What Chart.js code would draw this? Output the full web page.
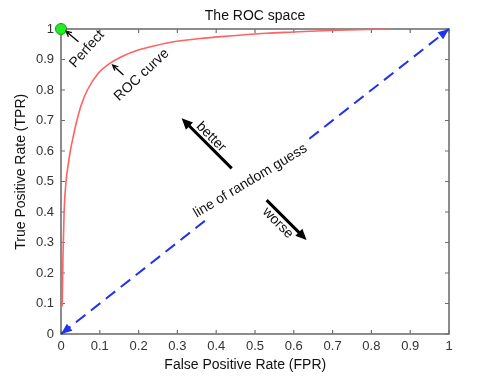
<!DOCTYPE html>
<html>
<head>
<meta charset="utf-8">
<style>
  html, body { margin: 0; padding: 0; background: #fff; }
  canvas { display: block; }
</style>
</head>
<body>
<canvas id="roc" width="480" height="376"></canvas>
<script src="https://cdn.jsdelivr.net/npm/chart.js@4.4.1/dist/chart.umd.min.js"></script>
<script>
// ROC curve (FPR -> TPR)
const rocFpr = [0.003, 0.005, 0.008, 0.013, 0.018, 0.024, 0.032, 0.041, 0.052, 0.068, 0.096, 0.122, 0.156, 0.199, 0.242, 0.29, 0.358, 0.444, 0.53, 0.6, 0.69, 0.84];
const rocTpr = [0.09, 0.25, 0.4, 0.5, 0.55, 0.6, 0.65, 0.7, 0.75, 0.8, 0.855, 0.884, 0.909, 0.931, 0.945, 0.958, 0.969, 0.978, 0.986, 0.99, 0.995, 1.0];

// line of random guess, broken where its label sits
const guessLow = [0, 0.375];
const guessHigh = [0.64, 1];

// the perfect classifier
const perfectFpr = [0];
const perfectTpr = [1];

const tickValues = [0, 0.1, 0.2, 0.3, 0.4, 0.5, 0.6, 0.7, 0.8, 0.9, 1];
const tickLabels = ["0", "0.1", "0.2", "0.3", "0.4", "0.5", "0.6", "0.7", "0.8", "0.9", "1"];

// rotated labels and pointer arrows (data units)
const notes = [
    { text: "Perfect", x: 0.067, y: 0.934, angle: -48 },
    { text: "ROC curve", x: 0.208, y: 0.849, angle: -43 },
    { text: "better", x: 0.387, y: 0.646, angle: 45 },
    { text: "worse", x: 0.559, y: 0.364, angle: 45 },
    { text: "line of random guess", x: 0.488, y: 0.502, angle: -31 },
];
const pointers = [
    { from: [0.045, 0.958], to: [0.013, 0.993], bold: false },
    { from: [0.161, 0.849], to: [0.133, 0.882], bold: false },
    { from: [0.44, 0.543], to: [0.311, 0.707], bold: true },
    { from: [0.53, 0.439], to: [0.633, 0.308], bold: true },
];

const zip = (xs, ys) => xs.map((x, i) => ({ x: x, y: ys[i] }));

const blue = "#2233ee";
const fontFamily = "'Liberation Sans', Arial, sans-serif";
Chart.defaults.font.family = fontFamily;
Chart.defaults.color = "#222";

const drawArrow = (ctx, x1, y1, x2, y2, bold) => {
    const a = Math.atan2(y2 - y1, x2 - x1);
    ctx.save();
    ctx.strokeStyle = "#000";
    ctx.fillStyle = "#000";
    ctx.lineCap = "butt";
    if (bold) {
        const len = 11, half = 5;
        ctx.lineWidth = 3;
        ctx.beginPath();
        ctx.moveTo(x1, y1);
        ctx.lineTo(x2 - Math.cos(a) * len * 0.7, y2 - Math.sin(a) * len * 0.7);
        ctx.stroke();
        ctx.beginPath();
        ctx.moveTo(x2, y2);
        ctx.lineTo(x2 - Math.cos(a) * len - Math.sin(a) * half, y2 - Math.sin(a) * len + Math.cos(a) * half);
        ctx.lineTo(x2 - Math.cos(a) * len + Math.sin(a) * half, y2 - Math.sin(a) * len - Math.cos(a) * half);
        ctx.closePath();
        ctx.fill();
    } else {
        const len = 6;
        ctx.lineWidth = 1.3;
        ctx.beginPath();
        ctx.moveTo(x1, y1);
        ctx.lineTo(x2, y2);
        ctx.moveTo(x2 - Math.cos(a - 0.45) * len, y2 - Math.sin(a - 0.45) * len);
        ctx.lineTo(x2, y2);
        ctx.lineTo(x2 - Math.cos(a + 0.45) * len, y2 - Math.sin(a + 0.45) * len);
        ctx.stroke();
    }
    ctx.restore();
};

const drawHead = (ctx, from, tip) => {
    const a = Math.atan2(tip.y - from.y, tip.x - from.x);
    const len = 11, half = 4.5;
    ctx.beginPath();
    ctx.moveTo(tip.x, tip.y);
    ctx.lineTo(tip.x - Math.cos(a) * len - Math.sin(a) * half, tip.y - Math.sin(a) * len + Math.cos(a) * half);
    ctx.lineTo(tip.x - Math.cos(a) * len + Math.sin(a) * half, tip.y - Math.sin(a) * len - Math.cos(a) * half);
    ctx.closePath();
    ctx.fill();
};

// MATLAB style box with inward ticks, plus the annotations
const rocDecor = {
    id: "rocDecor",
    beforeDatasetsDraw(chart) {
        const { ctx, chartArea: area, scales } = chart;
        ctx.save();
        ctx.strokeStyle = "#707070";
        ctx.lineWidth = 1.2;
        ctx.beginPath();
        scales.x.ticks.forEach((t) => {
            const px = scales.x.getPixelForValue(t.value);
            ctx.moveTo(px, area.bottom);
            ctx.lineTo(px, area.bottom - 4);
            ctx.moveTo(px, area.top);
            ctx.lineTo(px, area.top + 4);
        });
        scales.y.ticks.forEach((t) => {
            const py = scales.y.getPixelForValue(t.value);
            ctx.moveTo(area.left, py);
            ctx.lineTo(area.left + 4, py);
            ctx.moveTo(area.right, py);
            ctx.lineTo(area.right - 4, py);
        });
        ctx.stroke();
        ctx.lineWidth = 1.6;
        ctx.strokeRect(area.left, area.top, area.right - area.left, area.bottom - area.top);
        ctx.restore();
    },
    afterDatasetsDraw(chart) {
        const { ctx, scales } = chart;
        const low = chart.getDatasetMeta(2).data;
        const high = chart.getDatasetMeta(3).data;
        ctx.save();
        ctx.fillStyle = blue;
        drawHead(ctx, low[1], low[0]);
        drawHead(ctx, high[0], high[1]);
        ctx.restore();

        pointers.forEach((p) => {
            drawArrow(
                ctx,
                scales.x.getPixelForValue(p.from[0]),
                scales.y.getPixelForValue(p.from[1]),
                scales.x.getPixelForValue(p.to[0]),
                scales.y.getPixelForValue(p.to[1]),
                p.bold
            );
        });

        notes.forEach((n) => {
            ctx.save();
            ctx.translate(scales.x.getPixelForValue(n.x), scales.y.getPixelForValue(n.y));
            ctx.rotate((n.angle * Math.PI) / 180);
            ctx.font = "14px " + fontFamily;
            ctx.fillStyle = "#111";
            ctx.textAlign = "center";
            ctx.textBaseline = "middle";
            ctx.fillText(n.text, 0, 0);
            ctx.restore();
        });
    },
};

const axisTicks = (axis) => {
    axis.ticks = tickValues.map((v) => ({ value: v }));
};

new Chart(document.getElementById("roc"), {
    type: "scatter",
    data: {
        datasets: [
            // green dot at (0, 1)
            {
                data: zip(perfectFpr, perfectTpr),
                pointRadius: 5.5,
                pointBackgroundColor: "#22ee22",
                pointBorderColor: "#139a13",
                pointBorderWidth: 1,
                clip: false,
            },
            // red ROC curve
            {
                data: zip(rocFpr, rocTpr),
                showLine: true,
                borderColor: "#ff6262",
                borderWidth: 1.6,
                cubicInterpolationMode: "monotone",
                pointRadius: 0,
                clip: false,
            },
            // blue dashed diagonal
            {
                data: zip(guessLow, guessLow),
                showLine: true,
                borderColor: blue,
                borderWidth: 2,
                borderDash: [12, 7],
                pointRadius: 0,
                clip: false,
            },
            {
                data: zip(guessHigh, guessHigh),
                showLine: true,
                borderColor: blue,
                borderWidth: 2,
                borderDash: [12, 7],
                pointRadius: 0,
                clip: false,
            },
        ],
    },
    options: {
        responsive: false,
        animation: false,
        layout: {
            padding: { left: 0, right: 31, top: 0, bottom: 0 },
        },
        scales: {
            x: {
                type: "linear",
                min: 0,
                max: 1,
                afterBuildTicks: axisTicks,
                afterFit: (scale) => { scale.height = 42; },
                grid: { display: false, drawTicks: false },
                border: { display: false },
                ticks: {
                    padding: 5,
                    color: "#333",
                    font: { size: 13 },
                    maxRotation: 0,
                    callback: (value, i) => tickLabels[i],
                },
                title: {
                    display: true,
                    text: "False Positive Rate (FPR)     ",
                    color: "#111",
                    font: { size: 14, lineHeight: "16px" },
                    padding: { top: 0, bottom: 3 },
                },
            },
            y: {
                type: "linear",
                min: 0,
                max: 1,
                afterBuildTicks: axisTicks,
                afterFit: (scale) => { scale.width = 61; },
                grid: { display: false, drawTicks: false },
                border: { display: false },
                ticks: {
                    padding: 7,
                    color: "#333",
                    font: { size: 13 },
                    callback: (value, i) => tickLabels[i],
                },
                title: {
                    display: true,
                    text: "     True Positive Rate (TPR)",
                    color: "#111",
                    font: { size: 14, lineHeight: "16px" },
                    padding: { top: 13, bottom: 0 },
                },
            },
        },
        plugins: {
            legend: { display: false },
            tooltip: { enabled: false },
            title: {
                display: true,
                fullSize: false,
                text: "The ROC space",
                color: "#111",
                font: { size: 14, weight: "normal", lineHeight: "15px" },
                padding: { top: 9, bottom: 5 },
            },
        },
    },
    plugins: [rocDecor],
});
</script>
</body>
</html>
